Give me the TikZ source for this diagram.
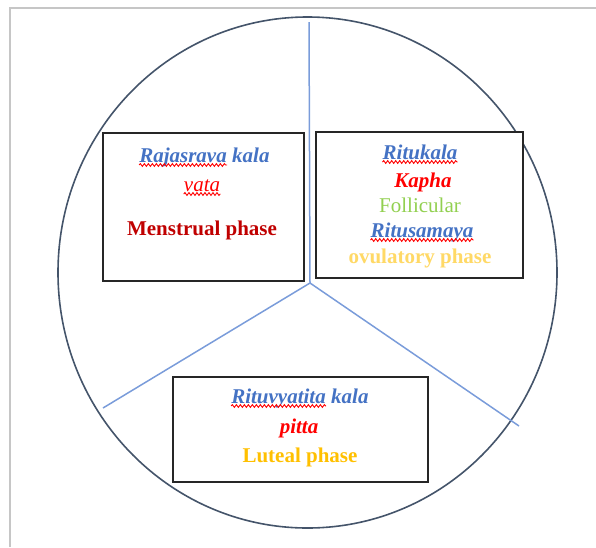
\documentclass[tikz,border=0pt]{standalone}
\usepackage{fontspec}
\setmainfont{Liberation Serif}
\usetikzlibrary{decorations.pathmorphing}
\definecolor{wordblue}{HTML}{4472C4}
\definecolor{wordred}{HTML}{FF0000}
\definecolor{darkred}{HTML}{C00000}
\definecolor{leafgreen}{HTML}{92D050}
\definecolor{paleyellow}{HTML}{FFD966}
\definecolor{goldyellow}{HTML}{FFC000}
\definecolor{ringgray}{HTML}{44546A}
\definecolor{spokeblue}{HTML}{7A9CDA}
\definecolor{boxgray}{HTML}{262626}
\begin{document}
\begin{tikzpicture}[x=1pt,y=-1pt,
    phasebox/.style={draw=boxgray, line width=1.5pt, fill=white, inner sep=0pt},
    spoke/.style={draw=spokeblue, line width=1.5pt},
    txt/.style={inner sep=0pt, anchor=base, font=\fontsize{21}{25}\selectfont},
    ayur/.style={txt, text=wordblue, font=\fontsize{21}{25}\selectfont\bfseries\itshape},
    dosha/.style={txt, text=wordred, font=\fontsize{21}{25}\selectfont\bfseries\itshape},
    phase/.style={txt, font=\fontsize{21}{25}\selectfont\bfseries},
    spell/.style={draw=wordred, line width=0.9pt, decorate,
      decoration={snake, amplitude=1.4pt, segment length=4pt}}]
  \useasboundingbox (0,0) rectangle (596,547);
  % page frame
  \draw[gray!45, line width=1.2pt] (10,547) -- (10,8) -- (596,8);
  % cycle
  \draw[ringgray, line width=1.6pt] (307.5,272.5) ellipse [x radius=249.5pt, y radius=255.5pt];
  \coordinate (hub) at (310,283);
  \coordinate (up) at (309,22);
  \coordinate (downleft) at (103,408);
  \coordinate (downright) at (519,426);
  \draw[spoke] (hub) -- (up);
  \draw[spoke] (hub) -- (downleft);
  \draw[spoke] (hub) -- (downright);
  % phase boxes
  \node[phasebox, minimum width=201pt, minimum height=148pt] (menstrual) at (203.5,207) {};
  \node[phasebox, minimum width=207pt, minimum height=146pt] (ovulatory) at (419.5,205) {};
  \node[phasebox, minimum width=255pt, minimum height=105pt] (luteal) at (300.5,429.5) {};

  % menstrual phase
  \node[ayur, anchor=base east] (rajasrava) at (227,162) {Rajasrava};
  \node[ayur, anchor=base west] (rajkala) at (232,162) {kala};
  \node[dosha, font=\fontsize{21}{25}\selectfont\itshape] (vata) at (202,191) {vata};
  \node[phase, text=darkred] (mensname) at (202,235) {Menstrual phase};
  \draw[spell] ([yshift=-3pt]rajasrava.base west) -- ([yshift=-3pt]rajasrava.base east);
  \draw[spell] ([yshift=-3pt]vata.base west) -- ([yshift=-3pt]vata.base east);

  % follicular / ovulatory phase
  \node[ayur] (ritukala) at (420,159) {Ritukala};
  \node[dosha] (kapha) at (423,187) {Kapha};
  \node[txt, text=leafgreen] (follicular) at (420,212) {Follicular};
  \node[ayur] (ritusamaya) at (422,237) {Ritusamaya};
  \node[phase, text=paleyellow] (ovuname) at (420,263) {ovulatory phase};
  \draw[spell] ([yshift=-3pt]ritukala.base west) -- ([yshift=-3pt]ritukala.base east);
  \draw[spell] ([yshift=-3pt]ritusamaya.base west) -- ([yshift=-3pt]ritusamaya.base east);

  % luteal phase
  \node[ayur, anchor=base east] (rituvyatita) at (326,403) {Rituvyatita};
  \node[ayur, anchor=base west] (ritukala2) at (331,403) {kala};
  \node[dosha] (pitta) at (299,433) {pitta};
  \node[phase, text=goldyellow] (lutname) at (300,462) {Luteal phase};
  \draw[spell] ([yshift=-3pt]rituvyatita.base west) -- ([yshift=-3pt]rituvyatita.base east);
\end{tikzpicture}
\end{document}
